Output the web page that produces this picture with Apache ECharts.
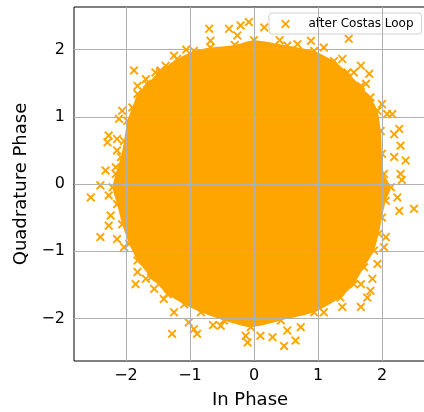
<!DOCTYPE html>
<html>
<head>
<meta charset="utf-8">
<script src="https://cdn.jsdelivr.net/npm/echarts@6/dist/echarts.min.js"></script>
<style>
  html, body { margin: 0; padding: 0; background: #fff; }
  #chart { width: 424px; height: 412px; }
</style>
</head>
<body>
<div id="chart"></div>
<script>
// Received symbols after carrier recovery: the dense core is bounded by
// the edge points, and the sparse symbols lie outside it.
const seriesName = 'after Costas Loop';
const xTicks = [-2, -1, 0, 1, 2];
const yTicks = [-2, -1, 0, 1, 2];

// Edge of the dense cloud, [I, Q], going round counter-clockwise from the top
const cloudEdge = [
  [0.00, 2.14], [-0.30, 2.07], [-0.68, 2.03], [-0.94, 1.98], [-1.20, 1.86],
  [-1.46, 1.69], [-1.67, 1.49], [-1.82, 1.34], [-1.90, 1.14], [-1.98, 0.94],
  [-2.03, 0.64], [-2.08, 0.40], [-2.16, 0.15], [-2.21, -0.05], [-2.14, -0.30],
  [-2.06, -0.60], [-1.95, -0.89], [-1.82, -1.14], [-1.61, -1.39], [-1.35, -1.64],
  [-1.09, -1.79], [-0.83, -1.91], [-0.47, -2.03], [-0.05, -2.13], [0.42, -2.03],
  [0.94, -1.91], [1.35, -1.69], [1.56, -1.49], [1.72, -1.24], [1.875, -0.99],
  [1.95, -0.74], [2.00, -0.50], [2.06, -0.25], [2.14, -0.05], [2.03, 0.15],
  [2.00, 0.45], [1.98, 0.79], [1.93, 1.09], [1.82, 1.29], [1.67, 1.46],
  [1.46, 1.66], [1.25, 1.83], [0.94, 1.98], [0.52, 2.06]
];

// Sparse symbols around and outside the dense cloud, [I, Q]
const outerSymbols = [
  // upper left
  [-1.875, 1.69], [-1.69, 1.56], [-1.54, 1.66], [-1.25, 1.91], [-1.38, 1.76],
  [-1.82, 1.46], [-2.06, 1.09], [-2.11, 0.97], [-2.27, 0.72], [-2.29, 0.62],
  [-2.14, 0.67], [-2.14, 0.50], [-2.32, 0.20], [-2.16, 0.25], [-0.70, 2.31],
  [-0.68, 2.13], [-0.39, 2.31], [-0.21, 2.36], [-0.08, 2.41], [-0.26, 2.21],
  [-1.06, 2.00], [-1.47, 1.67],
  // upper right
  [0.16, 2.33], [1.48, 2.16], [0.68, 2.08], [0.89, 2.13], [1.09, 2.03],
  [1.38, 1.86], [1.67, 1.76], [1.80, 1.64], [1.56, 1.66], [1.75, 1.49],
  [2.00, 1.19], [2.16, 1.04], [2.27, 0.82], [2.29, 0.57], [2.37, 0.35],
  [2.08, 1.04], [2.19, 0.74], [2.29, 0.15], [2.19, 0.40], [0.40, 2.14],
  [2.31, 0.06],
  // lower left
  [-2.55, -0.20], [-2.40, -0.02], [-2.27, -0.17], [-2.24, -0.47], [-2.27, -0.62],
  [-2.40, -0.79], [-2.14, -0.82], [-2.03, -0.94], [-1.82, -1.31], [-1.85, -1.49],
  [-1.69, -1.41], [-1.56, -1.56], [-1.41, -1.71], [-1.25, -1.91], [-1.28, -2.23],
  [-1.02, -2.06], [-0.89, -2.23], [-0.94, -2.16], [-0.52, -2.11], [-0.13, -2.26],
  [-0.10, -2.36], [-0.64, -2.10],
  // lower right
  [2.24, -0.20], [2.27, -0.40], [2.50, -0.37], [2.06, -0.79], [2.03, -0.94],
  [1.93, -1.19], [1.85, -1.41], [1.82, -1.59], [1.77, -1.69], [1.67, -1.83],
  [1.67, -1.49], [1.38, -1.83], [1.09, -1.91], [0.65, -2.33], [0.47, -2.41],
  [0.29, -2.28], [0.10, -2.26], [0.52, -2.18], [0.73, -2.13]
];

const ORANGE = '#ffa500';
const FONT = 'DejaVu Sans';
const CROSS = 'path://M0,1.5L1.5,0L5,3.5L8.5,0L10,1.5L6.5,5L10,8.5L8.5,10L5,6.5L1.5,10L0,8.5L3.5,5Z';
const minus = v => String(v).replace('-', '\u2212');

const chart = echarts.init(document.getElementById('chart'), null, { renderer: 'canvas' });

chart.setOption({
  animation: false,
  backgroundColor: '#ffffff',
  grid: {
    left: 74, top: 7, width: 352, height: 354,
    outerBoundsMode: 'none', containLabel: false,
    show: true, borderColor: '#000000', borderWidth: 1, backgroundColor: 'transparent'
  },
  legend: {
    left: 269, top: 13,
    padding: [4, 8, 3, 12],
    itemWidth: 20, itemHeight: 9,
    backgroundColor: 'rgba(255,255,255,0.85)',
    borderColor: '#d0d0d0', borderWidth: 1, borderRadius: 3,
    textStyle: { fontFamily: FONT, fontSize: 12, color: '#000', lineHeight: 14, padding: [0, 0, 0, 8] },
    data: [{ name: seriesName, icon: CROSS, itemStyle: { color: ORANGE } }]
  },
  xAxis: {
    type: 'value', min: -2.8125, max: 2.6875,
    name: 'In Phase', nameLocation: 'middle', nameGap: 30,
    nameTextStyle: { fontFamily: FONT, fontSize: 18, color: '#000' },
    axisLine: { show: true, lineStyle: { color: '#000', width: 1 } },
    axisTick: { show: true, length: 5, customValues: xTicks, lineStyle: { color: '#000', width: 1 } },
    axisLabel: { customValues: xTicks, margin: 7, fontFamily: FONT, fontSize: 16, color: '#000', formatter: minus },
    splitLine: { show: false }
  },
  yAxis: {
    type: 'value', min: -2.634, max: 2.634,
    name: 'Quadrature Phase', nameLocation: 'middle', nameGap: 32, nameRotate: 90,
    nameTextStyle: { fontFamily: FONT, fontSize: 18, color: '#000' },
    axisLine: { show: true, lineStyle: { color: '#000', width: 1 } },
    axisTick: { show: true, length: 5, customValues: yTicks, lineStyle: { color: '#000', width: 1 } },
    axisLabel: { customValues: yTicks, margin: 9, fontFamily: FONT, fontSize: 16, color: '#000', formatter: minus },
    splitLine: { show: false }
  },
  series: [
    {
      // dense core of the constellation
      type: 'custom',
      name: seriesName,
      z: 1,
      silent: true,
      data: cloudEdge,
      encode: { x: 0, y: 1 },
      renderItem: function (params, api) {
        if (params.dataIndex !== 0) return null;
        const pts = cloudEdge.map(p => api.coord(p));
        return { type: 'polygon', shape: { points: pts, smooth: 0.2 }, style: { fill: ORANGE } };
      }
    },
    {
      type: 'scatter',
      name: seriesName,
      z: 2,
      symbol: CROSS,
      symbolSize: 9,
      itemStyle: { color: ORANGE, opacity: 1 },
      data: cloudEdge.concat(outerSymbols)
    },
    {
      // grid lines drawn over the symbols
      type: 'scatter',
      name: 'grid',
      z: 5,
      silent: true,
      data: [],
      markLine: {
        silent: true,
        symbol: 'none',
        animation: false,
        label: { show: false },
        lineStyle: { color: '#b0b0b0', width: 1, type: 'solid', opacity: 1 },
        emphasis: { disabled: true },
        data: xTicks.map(v => ({ xAxis: v })).concat(yTicks.map(v => ({ yAxis: v })))
      }
    }
  ]
});
</script>
</body>
</html>
